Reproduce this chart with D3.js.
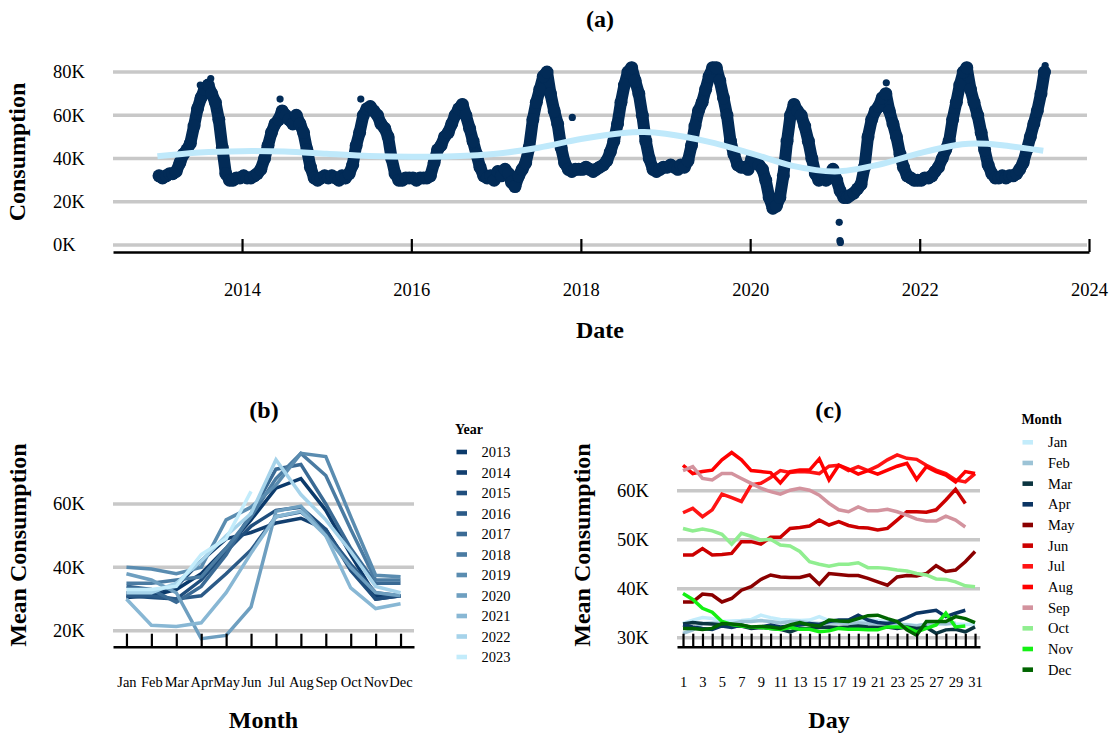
<!DOCTYPE html>
<html lang="en">
<head>
<meta charset="UTF-8">
<title>consumption</title>
<script src="https://cdn.jsdelivr.net/npm/d3@7"></script>
<style>
    body{ margin:0; background:#fff; }
    svg text{ font-family:"Liberation Serif","Times New Roman",serif; fill:#000; }
    .grid{ stroke:#c8c8c8; stroke-width:3.5; }
    .axis path, .axis line{ stroke:#000; }
</style>
</head>
<body>
<svg id="fig" width="1111" height="734"></svg>
<script>
// ---------- (a) daily consumption, read as half-month levels (K) ----------
const cons2013 = [32,31, 32,33, 33,34, 38,42, 44,47, 55,63, 68,72, 74,70, 66,58, 45,33, 30,30, 31,31]
const cons2014 = [32,31, 31,32, 33,35, 40,46, 52,56, 58,62, 60,58, 56,60, 56,52, 44,36, 31,30, 31,32]
const cons2015 = [31,32, 31,30, 32,31, 33,37, 46,52, 60,63, 64,62, 60,56, 54,50, 40,33, 30,30, 31,31]
const cons2016 = [31,30, 31,31, 31,32, 38,44, 46,50, 52,56, 60,63, 65,60, 54,48, 42,36, 32,31, 32,30]
const cons2017 = [34,32, 35,33, 29,27, 32,35, 38,45, 58,66, 72,78, 80,70, 62,56, 45,38, 35,34, 35,35]
const cons2018 = [35,36, 35,34, 35,36, 37,39, 43,48, 56,66, 74,80, 82,76, 70,60, 48,40, 35,34, 35,36]
const cons2019 = [36,37, 36,35, 37,36, 39,46, 55,62, 66,72, 78,82, 82,76, 68,60, 48,42, 37,36, 36,35]
const cons2020 = [40,38, 37,35, 30,22, 17,18, 22,32, 48,60, 65,62, 60,55, 48,40, 33,30, 31,30, 31,35]
const cons2021 = [30,25, 22,22, 23,24, 26,28, 36,50, 58,62, 64,68, 70,62, 56,50, 42,36, 32,31, 30,30]
const cons2022 = [30,31, 31,32, 34,36, 40,44, 48,58, 66,74, 80,82, 72,66, 60,52, 44,37, 33,31, 31,32]
const cons2023 = [31,32, 32,33, 35,38, 44,50, 56,62, 70,80]
const consYears = [2013,2014,2015,2016,2017,2018,2019,2020,2021,2022,2023]
const consSeries = [cons2013,cons2014,cons2015,cons2016,cons2017,cons2018,cons2019,cons2020,cons2021,cons2022,cons2023]

const outlierDates = ["2013-07-05","2013-08-19","2014-06-14","2015-05-28","2017-11-25","2021-01-19","2021-01-22","2021-01-24","2021-08-10","2023-06-26"]
const outlierValues = [74,77,67.5,67.5,59,10.5,2.0,1.2,75,83]

const trendYears = [2013.0,2013.5,2014.0,2014.5,2015.0,2015.5,2016.0,2016.5,2017.0,2017.5,2018.0,2018.5,2018.75,2019.0,2019.5,2020.0,2020.5,2021.0,2021.5,2022.0,2022.5,2022.8,2023.0,2023.46]
const trendValues = [41.0,42.8,43.4,43.2,42.2,41.2,40.8,41.0,42.2,45.0,49.0,51.8,52.2,51.4,47.8,42.5,36.6,34.0,37.0,42.5,46.6,46.8,46.0,43.6]

// ---------- (b) monthly mean by year (K) ----------
const months = ["Jan","Feb","Mar","Apr","May","Jun","Jul","Aug","Sep","Oct","Nov","Dec"]
const years = ["2013","2014","2015","2016","2017","2018","2019","2020","2021","2022","2023"]
const mean2013 = [30.5,31,33,38,46,55,65,68,58,44,31,31]
const mean2014 = [32,32,34,42,49,51,54,55.5,52,40,30,31]
const mean2015 = [31,30.5,30,36,45,53,58,59,52,39,30,31]
const mean2016 = [31,31,30,31,38,45.5,56,57.5,51,41,32,31]
const mean2017 = [34,33,29,34,44,57,71,72.5,60,46,35,35]
const mean2018 = [35,35,36,37,46,56,68,76,69,52,36,36]
const mean2019 = [40,39.5,38,40,55,59,66,76,75,56,37.5,37]
const mean2020 = [38,36,32,17.5,18.5,27.5,57.7,59.3,50,40,32,31]
const mean2021 = [30,21.7,21.3,22.5,32,44.5,56,57.7,50,33.5,27,28.5]
const mean2022 = [32,32,35,42,50,57,74,63,55,45,34,32]
const mean2023 = [33,33,34,44,49,64]
const yearMeans = [mean2013,mean2014,mean2015,mean2016,mean2017,mean2018,mean2019,mean2020,mean2021,mean2022,mean2023]

// ---------- (c) mean by day of month (K) ----------
const dayJan = [32.9,33.6,34.1,33.9,33.3,33.4,33.5,33.7,34.6,34.1,33.7,33.6,33.5,33.6,34.3,33.5,33.3,33.6,33.3,33.6,33.5,33.3,32.7,32.7,32.5,32.7,32.8,33.0,32.8,32.7,32.8]
const dayFeb = [30.9,31.6,32.9,33.0,32.9,32.8,33.3,33.3,33.5,33.3,33.0,33.3,33.3,33.0,32.9,33.0,33.0,32.9,33.0,32.9,32.8,33.0,32.8,32.6,32.4,32.8,32.9,32.8,33.0]
const dayMar = [32.8,33.1,32.9,32.8,32.6,32.3,32.4,31.9,32.1,31.9,31.7,31.2,31.9,31.9,32.1,32.2,32.1,32.2,32.4,32.2,32.1,32.2,31.9,32.2,31.9,32.1,30.9,31.6,31.7,31.2,32.2]
const dayApr = [32.6,32.2,31.9,31.7,32.4,32.1,32.6,32.1,32.2,32.6,32.2,32.4,32.6,32.9,32.7,33.3,33.6,33.6,34.6,33.6,33.1,32.9,33.3,34.1,35.0,35.3,35.6,34.3,35.0,35.6]
const dayMay = [37.3,37.3,38.9,38.7,37.3,38.0,39.7,40.4,41.9,42.8,42.4,42.3,42.3,42.8,40.9,43.1,42.9,42.7,42.7,42.1,41.4,40.7,42.4,42.7,42.6,43.1,44.7,43.5,43.8,45.5,47.6]
const dayJun = [46.9,46.9,48.2,46.9,47.0,47.2,49.6,49.6,49.1,50.5,50.5,52.3,52.5,52.8,54.0,53.0,53.7,52.9,52.5,52.4,52.0,52.3,54.0,55.7,55.7,55.6,56.1,58.1,60.3,57.4]
const dayJul = [55.5,56.4,54.7,56.1,59.3,58.6,57.8,61.2,61.5,62.7,64.1,63.7,63.9,63.8,63.5,65.0,65.2,64.1,64.9,64.1,65.0,66.3,67.3,66.6,66.4,65.2,64.2,63.5,62.2,61.8,63.5]
const dayAug = [65.2,63.5,63.9,64.2,66.3,67.8,66.3,64.1,63.9,63.7,61.6,63.9,64.2,64.2,66.5,62.2,65.2,64.4,63.4,64.1,63.4,64.2,65.0,65.6,62.3,64.9,63.9,63.2,61.8,63.9,63.5]
const daySep = [64.1,64.9,62.5,62.2,63.5,63.5,62.5,61.5,60.5,59.8,59.3,60.1,60.5,60.1,59.1,57.4,56.1,55.7,56.7,55.9,55.9,56.2,55.7,55.0,54.2,53.8,53.8,54.8,54.0,52.6]
const dayOct = [52.3,51.8,52.2,51.8,51.1,49.1,51.3,50.7,49.9,50.1,48.9,48.7,47.6,45.5,45.0,44.6,45.0,45.0,45.3,44.3,44.3,44.1,43.8,43.6,43.1,42.8,42.0,41.9,41.4,40.6,40.4]
const dayNov = [39.0,37.8,36.0,35.2,33.3,32.7,32.4,32.2,32.1,31.9,31.7,32.1,31.7,31.7,31.2,31.4,31.9,31.7,31.7,31.6,31.6,32.2,32.2,32.1,31.2,31.9,32.6,35.0,32.2,32.4]
const dayDec = [31.9,31.9,31.7,31.9,32.9,32.8,32.6,32.2,32.3,32.2,31.9,32.6,33.1,32.6,32.4,33.6,33.4,33.3,33.9,34.5,34.6,33.9,33.3,31.6,30.5,33.3,33.3,33.3,34.3,33.9,33.1]
const dayMeans = [dayJan,dayFeb,dayMar,dayApr,dayMay,dayJun,dayJul,dayAug,daySep,dayOct,dayNov,dayDec]

const yearColors = ["#0b3a6b","#123f6f","#1f4e7d","#2b5a87","#3a6a94","#4a7ba2","#5a8cb0","#6e9fc0","#88b7d4","#a6d3ea","#c3ecfb"]
const monthColors = ["#c3ecfb","#9cc3d6","#0b3540","#0b3563","#8b0000","#cc0000","#ff1414","#ff0000","#d3939e","#90ee90","#14f014","#006400"]

const svg = d3.select("#fig")
const navy = "#022b57"

function yearFrac(y){
    let y0 = Math.floor(y)
    let t0 = new Date(y0,0,1).getTime(), t1 = new Date(y0+1,0,1).getTime()
    return new Date(t0 + (y-y0)*(t1-t0))
}

function yAxisLabels(g, scale, vals, x){
    g.append("g")
        .attr("class","axis")
        .attr("transform","translate("+x+",0)")
        .call(d3.axisLeft(scale).tickValues(vals).tickSize(0).tickFormat(d => d+"K"))
        .call(a => a.select(".domain").remove())
        .selectAll("text")
        .attr("x",0).attr("text-anchor","start")
        .style("font-size","18.5px")
}

function grid(g, scale, vals, x0, x1){
    g.selectAll(null).data(vals).enter().append("line")
        .attr("class","grid")
        .attr("x1",x0).attr("x2",x1)
        .attr("y1",d => scale(d)).attr("y2",d => scale(d))
}

function title(txt, x, y, size, rot){
    let t = svg.append("text")
        .attr("text-anchor","middle")
        .style("font-weight","bold")
        .style("font-size",size+"px")
        .text(txt)
    if(rot) t.attr("transform","translate("+x+","+y+") rotate(-90)")
    else t.attr("x",x).attr("y",y)
}

// ================= panel (a) =================
const xA = d3.scaleTime().domain([yearFrac(2012.477), new Date(2024,0,1)]).range([113,1089])
const yA = d3.scaleLinear().domain([0,80]).range([245,72])
const gA = svg.append("g")

grid(gA, yA, [0,20,40,60,80], 113, 1087)
yAxisLabels(gA, yA, [0,20,40,60,80], 53)

let consPoints = []
consSeries.forEach((arr,i) => {
    arr.forEach((v,j) => {
        consPoints.push({date: new Date(consYears[i], Math.floor(j/2), j%2 ? 23 : 8), v: v})
    })
})

gA.append("path")
    .datum(consPoints)
    .attr("fill","none")
    .attr("stroke",navy)
    .attr("stroke-width",12)
    .attr("stroke-linejoin","round")
    .attr("stroke-linecap","round")
    .attr("d", d3.line().x(d => xA(d.date)).y(d => yA(d.v)))

gA.selectAll(".dot").data(consPoints).enter().append("circle")
    .attr("cx",d => xA(d.date)).attr("cy",d => yA(d.v)).attr("r",6.5)
    .attr("fill",navy)

gA.selectAll(".out").data(outlierDates).enter().append("circle")
    .attr("cx",d => xA(new Date(d))).attr("cy",(d,i) => yA(outlierValues[i])).attr("r",3.6)
    .attr("fill",navy)

gA.append("path")
    .datum(trendYears.map((y,i) => ({date: yearFrac(y), v: trendValues[i]})))
    .attr("fill","none")
    .attr("stroke","#bfe9fb")
    .attr("stroke-width",6)
    .attr("d", d3.line().curve(d3.curveCatmullRom).x(d => xA(d.date)).y(d => yA(d.v)))

gA.append("g")
    .attr("class","axis")
    .attr("transform","translate(0,252)")
    .call(d3.axisBottom(xA).ticks(d3.timeYear.every(2)).tickSize(-13).tickSizeOuter(0).tickPadding(31).tickFormat(d3.timeFormat("%Y")))
    .call(a => a.select(".domain").attr("stroke-width",2.5))
    .call(a => a.selectAll(".tick line").attr("stroke-width",2.2))
    .call(a => a.selectAll("text").style("font-size","18.5px"))

title("(a)", 600, 27, 24)
title("Date", 600, 338, 24)
title("Consumption", 25, 152, 24, true)

// ================= panel (b) =================
const xB = d3.scalePoint().domain(months).range([113,414]).padding(0.54)
const yB = d3.scaleLinear().domain([20,60]).range([630.7,504])
const gB = svg.append("g")

grid(gB, yB, [20,40,60], 113, 414)
yAxisLabels(gB, yB, [20,40,60], 53)

yearMeans.forEach((arr,i) => {
    gB.append("path")
        .datum(arr)
        .attr("fill","none")
        .attr("stroke",yearColors[i])
        .attr("stroke-width",3.5)
        .attr("d", d3.line().x((d,j) => xB(months[j])).y(d => yB(d)))
})

gB.append("g")
    .attr("class","axis")
    .attr("transform","translate(0,646.7)")
    .call(d3.axisBottom(xB).tickSize(-13).tickSizeOuter(0).tickPadding(30))
    .call(a => a.select(".domain").attr("stroke-width",2.5))
    .call(a => a.selectAll(".tick line").attr("stroke-width",2.2))
    .call(a => a.selectAll("text").style("font-size","14.5px"))

title("(b)", 264, 418, 24)
title("Month", 263.5, 728, 24)
title("Mean Consumption", 26, 545, 24, true)

const legB = svg.append("g")
legB.append("text").attr("x",455).attr("y",434).style("font-weight","bold").style("font-size","14px").text("Year")
years.forEach((y,i) => {
    legB.append("rect").attr("x",456.5).attr("y",452+i*20.5-2.3).attr("width",10.5).attr("height",4.6).attr("fill",yearColors[i])
    legB.append("text").attr("x",481.4).attr("y",452+i*20.5+5).style("font-size","14.5px").text(y)
})

// ================= panel (c) =================
const xC = d3.scaleLinear().domain([0.383,31.51]).range([677,980])
const yC = d3.scaleLinear().domain([30,60]).range([637.7,490.7])
const gC = svg.append("g")

grid(gC, yC, [30,40,50,60], 677, 980)
yAxisLabels(gC, yC, [30,40,50,60], 617)

dayMeans.forEach((arr,i) => {
    gC.append("path")
        .datum(arr)
        .attr("fill","none")
        .attr("stroke",monthColors[i])
        .attr("stroke-width",3.5)
        .attr("d", d3.line().x((d,j) => xC(j+1)).y(d => yC(d)))
})

gC.append("g")
    .attr("class","axis")
    .attr("transform","translate(0,646.7)")
    .call(d3.axisBottom(xC).tickValues(d3.range(1,32)).tickSize(-13).tickSizeOuter(0).tickPadding(30)
        .tickFormat(d => d % 2 ? d : ""))
    .call(a => a.select(".domain").attr("stroke-width",2.5))
    .call(a => a.selectAll(".tick line").attr("stroke-width",2.2))
    .call(a => a.selectAll("text").style("font-size","14.5px"))

title("(c)", 828.5, 418, 24)
title("Day", 829, 728, 24)
title("Mean Consumption", 590, 545, 24, true)

const legC = svg.append("g")
legC.append("text").attr("x",1021.4).attr("y",424).style("font-weight","bold").style("font-size","14px").text("Month")
months.forEach((m,i) => {
    legC.append("rect").attr("x",1022.5).attr("y",442.3+i*20.67-2.3).attr("width",10.5).attr("height",4.6).attr("fill",monthColors[i])
    legC.append("text").attr("x",1048).attr("y",442.3+i*20.67+5).style("font-size","14.5px").text(m)
})
</script>
</body>
</html>
